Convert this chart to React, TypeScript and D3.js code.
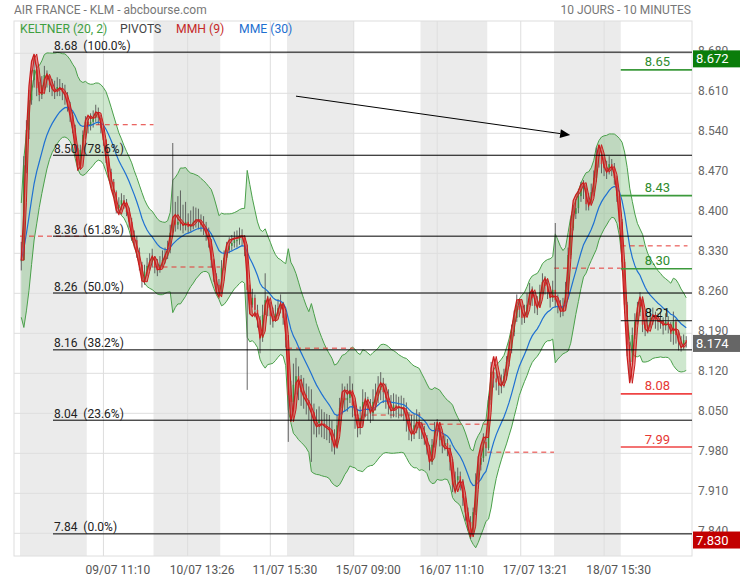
import { useMemo } from 'react';
import * as d3 from 'd3';

const size = { width: 740, height: 580 };
const PLOT = { left: 14, right: 692, top: 21, bottom: 556 };
// the bars do not fill the whole plot, the chart keeps a small gap on both sides
const BARS_SPAN = [20, 687.5];
const Y_DOMAIN = [7.8003, 8.7365];

const color = {
  grid: '#dedede',
  band: '#ebebeb',
  text: '#666',
  keltner: '#4aa04a',
  mme: '#1e70d2',
  mmh: '#c81e1e',
  up: '#3f8c3f',
  down: '#d03a3a',
  wick: '#555',
  fib: '#000',
};

const title = 'AIR FRANCE - KLM - abcbourse.com';
const subtitle = '10 JOURS - 10 MINUTES';

// the picture is 10 minute bars, read here one bar every 20 minutes
const SOURCE_MINUTES = 10;
const BAR_MINUTES = 20;
const BARS_PER_DAY = 26;

const days = ['08/07', '09/07', '10/07', '11/07', '12/07', '15/07', '16/07', '17/07', '18/07', '19/07'];

const closes = [
  // 08/07
  8.318, 8.484, 8.546, 8.598, 8.633, 8.651, 8.619, 8.607, 8.624, 8.642, 8.633, 8.624, 8.619, 8.616, 8.621, 8.619, 8.612, 8.607, 8.589, 8.572, 8.549, 8.514, 8.484, 8.511, 8.537, 8.56,
  // 09/07
  8.554, 8.56, 8.567, 8.577, 8.567, 8.549, 8.528, 8.497, 8.472, 8.455, 8.437, 8.409, 8.415, 8.423, 8.418, 8.402, 8.385, 8.362, 8.353, 8.332, 8.31, 8.287, 8.298, 8.308, 8.315, 8.322,
  // 10/07
  8.306, 8.301, 8.31, 8.318, 8.325, 8.336, 8.366, 8.388, 8.38, 8.385, 8.382, 8.378, 8.385, 8.376, 8.38, 8.385, 8.388, 8.385, 8.38, 8.375, 8.365, 8.352, 8.318, 8.29, 8.275, 8.266,
  // 11/07
  8.304, 8.322, 8.336, 8.343, 8.348, 8.353, 8.353, 8.36, 8.357, 8.336, 8.266, 8.24, 8.252, 8.231, 8.213, 8.182, 8.222, 8.248, 8.234, 8.22, 8.213, 8.224, 8.234, 8.241, 8.217, 8.178,
  // 12/07
  8.082, 8.07, 8.1, 8.115, 8.094, 8.087, 8.082, 8.073, 8.064, 8.052, 8.038, 8.033, 8.038, 8.031, 8.028, 8.026, 8.021, 8.003, 7.993, 8.029, 8.059, 8.077, 8.073, 8.077, 8.091, 8.064,
  // 15/07
  8.047, 8.029, 8.042, 8.07, 8.064, 8.056, 8.05, 8.07, 8.08, 8.091, 8.098, 8.087, 8.077, 8.066, 8.059, 8.064, 8.063, 8.059, 8.061, 8.056, 8.038, 8.024, 8.021, 8.029, 8.038, 8.024,
  // 16/07
  8.017, 8.007, 7.991, 7.965, 7.995, 8.021, 8.024, 8.003, 7.993, 7.998, 7.989, 7.965, 7.925, 7.933, 7.94, 7.93, 7.902, 7.877, 7.86, 7.842, 7.877, 7.933, 7.96, 7.972, 8.0, 7.989,
  // 17/07
  8.073, 8.122, 8.111, 8.104, 8.098, 8.103, 8.115, 8.14, 8.164, 8.192, 8.217, 8.238, 8.231, 8.217, 8.222, 8.24, 8.262, 8.252, 8.238, 8.238, 8.262, 8.28, 8.273, 8.262, 8.252, 8.266,
  // 18/07
  8.248, 8.24, 8.231, 8.238, 8.266, 8.327, 8.374, 8.399, 8.409, 8.43, 8.442, 8.444, 8.416, 8.42, 8.437, 8.462, 8.5, 8.502, 8.486, 8.479, 8.476, 8.486, 8.479, 8.462, 8.43, 8.385,
  // 19/07
  8.315, 8.24, 8.17, 8.14, 8.187, 8.21, 8.227, 8.245, 8.205, 8.199, 8.205, 8.217, 8.22, 8.213, 8.21, 8.213, 8.203, 8.21, 8.205, 8.189, 8.21, 8.187, 8.175, 8.171, 8.178, 8.174,
];

const highs = [
  8.35, 8.5, 8.563, 8.616, 8.65, 8.672, 8.66, 8.63, 8.64, 8.658, 8.65, 8.64, 8.635, 8.632, 8.638, 8.635, 8.628, 8.625, 8.612, 8.595, 8.578, 8.555, 8.52, 8.52, 8.545, 8.57,
  8.568, 8.575, 8.58, 8.59, 8.585, 8.572, 8.552, 8.53, 8.5, 8.478, 8.46, 8.44, 8.428, 8.435, 8.432, 8.425, 8.41, 8.392, 8.37, 8.36, 8.34, 8.315, 8.31, 8.322, 8.33, 8.338,
  8.325, 8.32, 8.325, 8.335, 8.34, 8.352, 8.38, 8.523, 8.42, 8.43, 8.44, 8.415, 8.42, 8.4, 8.405, 8.412, 8.41, 8.408, 8.398, 8.395, 8.385, 8.375, 8.355, 8.32, 8.295, 8.285,
  8.318, 8.335, 8.35, 8.358, 8.362, 8.368, 8.37, 8.375, 8.372, 8.362, 8.345, 8.275, 8.268, 8.258, 8.24, 8.22, 8.24, 8.295, 8.255, 8.245, 8.235, 8.24, 8.25, 8.258, 8.245, 8.225,
  8.187, 8.107, 8.137, 8.147, 8.132, 8.117, 8.112, 8.102, 8.097, 8.092, 8.067, 8.057, 8.062, 8.057, 8.052, 8.049, 8.047, 8.037, 8.022, 8.047, 8.077, 8.102, 8.097, 8.102, 8.115, 8.102,
  8.072, 8.057, 8.062, 8.092, 8.087, 8.079, 8.075, 8.092, 8.102, 8.115, 8.122, 8.112, 8.102, 8.092, 8.082, 8.085, 8.083, 8.079, 8.081, 8.077, 8.069, 8.052, 8.047, 8.049, 8.057, 8.052,
  8.035, 8.028, 8.012, 7.995, 8.005, 8.035, 8.04, 8.03, 8.01, 8.012, 8.005, 7.995, 7.97, 7.948, 7.955, 7.948, 7.935, 7.905, 7.885, 7.87, 7.885, 7.945, 7.975, 7.99, 8.015, 8.01,
  8.08, 8.14, 8.13, 8.122, 8.115, 8.118, 8.128, 8.15, 8.175, 8.205, 8.23, 8.258, 8.25, 8.238, 8.24, 8.26, 8.278, 8.272, 8.258, 8.255, 8.275, 8.295, 8.29, 8.285, 8.272, 8.282,
  8.383, 8.258, 8.248, 8.252, 8.28, 8.34, 8.39, 8.415, 8.425, 8.442, 8.455, 8.458, 8.45, 8.435, 8.452, 8.475, 8.515, 8.518, 8.508, 8.498, 8.492, 8.5, 8.495, 8.488, 8.465, 8.435,
  8.39, 8.32, 8.245, 8.175, 8.2, 8.225, 8.245, 8.262, 8.25, 8.215, 8.22, 8.232, 8.235, 8.228, 8.225, 8.228, 8.218, 8.225, 8.22, 8.21, 8.228, 8.215, 8.195, 8.185, 8.188, 8.185,
];

const lows = [
  8.3, 8.318, 8.47, 8.53, 8.59, 8.62, 8.605, 8.596, 8.6, 8.615, 8.62, 8.612, 8.605, 8.6, 8.605, 8.605, 8.598, 8.59, 8.578, 8.56, 8.54, 8.5, 8.475, 8.478, 8.505, 8.53,
  8.54, 8.545, 8.55, 8.56, 8.555, 8.54, 8.518, 8.488, 8.465, 8.445, 8.428, 8.4, 8.398, 8.405, 8.408, 8.395, 8.375, 8.352, 8.34, 8.322, 8.3, 8.27, 8.275, 8.29, 8.3, 8.305,
  8.295, 8.29, 8.296, 8.305, 8.312, 8.32, 8.33, 8.36, 8.368, 8.372, 8.37, 8.365, 8.37, 8.365, 8.368, 8.372, 8.375, 8.372, 8.368, 8.362, 8.352, 8.34, 8.305, 8.28, 8.262, 8.258,
  8.26, 8.3, 8.318, 8.33, 8.335, 8.34, 8.34, 8.345, 8.342, 8.325, 8.091, 8.225, 8.235, 8.218, 8.2, 8.155, 8.175, 8.225, 8.22, 8.205, 8.2, 8.21, 8.22, 8.225, 8.205, 8.165,
  8.0, 8.038, 8.053, 8.083, 8.073, 8.063, 8.058, 8.048, 8.038, 7.965, 8.013, 8.008, 8.013, 8.008, 8.005, 8.003, 7.998, 7.983, 7.978, 7.988, 8.018, 8.048, 8.053, 8.053, 8.068, 8.043,
  8.023, 8.008, 8.013, 8.028, 8.043, 8.038, 8.033, 8.038, 8.055, 8.068, 8.073, 8.068, 8.058, 8.048, 8.041, 8.043, 8.043, 8.041, 8.043, 8.037, 8.018, 8.003, 8.001, 8.005, 8.015, 8.005,
  8.005, 7.995, 7.978, 7.95, 7.96, 7.99, 8.01, 7.992, 7.98, 7.985, 7.975, 7.95, 7.912, 7.915, 7.925, 7.915, 7.888, 7.862, 7.845, 7.83, 7.838, 7.872, 7.928, 7.95, 7.965, 7.975,
  7.985, 8.065, 8.095, 8.09, 8.082, 8.085, 8.095, 8.108, 8.132, 8.155, 8.185, 8.21, 8.218, 8.205, 8.208, 8.225, 8.24, 8.238, 8.225, 8.222, 8.24, 8.258, 8.258, 8.25, 8.235, 8.245,
  8.235, 8.225, 8.218, 8.22, 8.23, 8.262, 8.32, 8.37, 8.39, 8.4, 8.42, 8.425, 8.405, 8.405, 8.415, 8.43, 8.455, 8.48, 8.47, 8.465, 8.46, 8.468, 8.465, 8.45, 8.42, 8.372,
  8.3, 8.225, 8.15, 8.105, 8.135, 8.18, 8.205, 8.22, 8.192, 8.185, 8.19, 8.2, 8.205, 8.198, 8.195, 8.198, 8.188, 8.195, 8.19, 8.175, 8.17, 8.172, 8.16, 8.158, 8.162, 8.165,
];

const yTicks = [7.84, 7.91, 7.98, 8.05, 8.12, 8.19, 8.26, 8.33, 8.4, 8.47, 8.54, 8.61, 8.68];
const xTickLabels = ['09/07 11:10', '10/07 13:26', '11/07 15:30', '15/07 09:00', '16/07 11:10', '17/07 13:21', '18/07 15:30'];

const keltnerParams = [20, 2];
const mmhPeriod = 9;
const mmePeriod = 30;

const fibHigh = 8.682;
const fibLow = 7.839;
const fibRatios = [1, 0.786, 0.618, 0.5, 0.382, 0.236, 0];

// pivot of each day (dashed), none could be read for 11/07
const dayPivots = [8.36, 8.555, 8.306, null, 8.164, 8.047, 8.031, 7.982, 8.304, 8.343];

// pivots of the last day
const pivotNames = ['R3', 'R2', 'R1', 'P', 'S1', 'S2'];
const pivotValues = [8.651, 8.431, 8.303, 8.212, 8.084, 7.991];

// hand drawn arrow, [bar, price]
const arrowFrom = [107, 8.605];
const arrowTo = [213.8, 8.537];

const legend = [
  { text: `KELTNER (${keltnerParams.join(', ')})`, fill: '#3f9f3f', x: 20 },
  { text: 'PIVOTS', fill: '#444', x: 120 },
  { text: `MMH (${mmhPeriod})`, fill: '#c62828', x: 176 },
  { text: `MME (${mmePeriod})`, fill: '#1e6fd0', x: 239 },
];

const FONT = "Roboto, 'Noto Sans', sans-serif";

const ema = (v: number[], n: number) => {
  const a = 2 / (n + 1);
  const out: number[] = [];
  v.forEach((x, i) => out.push(i === 0 ? x : out[i - 1] + a * (x - out[i - 1])));
  return out;
};

const wma = (v: number[], n: number) =>
  v.map((_, i) => {
    let s = 0;
    let w = 0;
    for (let k = 0; k < n && i - k >= 0; k++) {
      s += (n - k) * v[i - k];
      w += n - k;
    }
    return s / w;
  });

const hma = (v: number[], n: number) => {
  const half = wma(v, Math.max(1, Math.floor(n / 2)));
  const full = wma(v, n);
  const diff = half.map((h, i) => 2 * h - full[i]);
  return wma(diff, Math.max(1, Math.floor(Math.sqrt(n))));
};

const App = () => {
  const N = closes.length;
  const scale = SOURCE_MINUTES / BAR_MINUTES;

  const xScale = useMemo(() => d3.scaleLinear().domain([-0.5, N - 0.5]).range(BARS_SPAN), [N]);
  const yScale = useMemo(() => d3.scaleLinear().domain(Y_DOMAIN).range([PLOT.bottom, PLOT.top]), []);
  const bw = xScale(1) - xScale(0);

  const opens = closes.map((c, i) => (i === 0 ? c : closes[i - 1]));

  // indicators, periods scaled to the 20 minute bars
  const kN = Math.round(keltnerParams[0] * scale);
  const mid = ema(closes, kN);
  const tr = closes.map((_, i) =>
    i === 0
      ? highs[0] - lows[0]
      : Math.max(highs[i] - lows[i], Math.abs(highs[i] - closes[i - 1]), Math.abs(lows[i] - closes[i - 1])),
  );
  const atr = ema(tr, kN);
  const upper = mid.map((m, i) => m + keltnerParams[1] * atr[i]);
  const lower = mid.map((m, i) => m - keltnerParams[1] * atr[i]);
  const mme = ema(closes, Math.round(mmePeriod * scale));
  const mmhN = Math.round(mmhPeriod * scale);
  const mmhClose = hma(closes, mmhN);
  const mmhOpen = hma(opens, mmhN);

  const line = d3
    .line<number>()
    .x((_, i) => xScale(i))
    .y(v => yScale(v));
  const keltnerArea = d3
    .area<number>()
    .x((_, i) => xScale(i))
    .y0((_, i) => yScale(lower[i]))
    .y1(v => yScale(v));
  const ribbon = d3
    .area<number>()
    .x((_, i) => xScale(i))
    .y0((_, i) => yScale(mmhOpen[i]))
    .y1(v => yScale(v));

  const dayX0 = (d: number) => xScale(d * BARS_PER_DAY - 0.5);
  const dayX1 = (d: number) => xScale(d * BARS_PER_DAY + BARS_PER_DAY - 0.5);

  const xTicks = xTickLabels.map(label => {
    const [day, time] = label.split(' ');
    const [hh, mm] = time.split(':').map(Number);
    const minutes = (hh - 9) * 60 + mm;
    const bar = days.indexOf(day) * BARS_PER_DAY + minutes / BAR_MINUTES - 0.5;
    return { label, x: xScale(bar) };
  });

  const fibs = fibRatios.map(r => ({ r, v: fibLow + r * (fibHigh - fibLow) }));

  const tags = [
    { v: d3.max(highs) as number, fill: '#0a7d0a' },
    { v: closes[N - 1], fill: '#666' },
    { v: d3.min(lows) as number, fill: '#c20000' },
  ];

  // arrow head
  const ax0 = xScale(arrowFrom[0]);
  const ay0 = yScale(arrowFrom[1]);
  const ax1 = xScale(arrowTo[0]);
  const ay1 = yScale(arrowTo[1]);
  const ang = Math.atan2(ay1 - ay0, ax1 - ax0);
  const headL = 10;
  const headW = 4.5;
  const bx = ax1 - headL * Math.cos(ang);
  const by = ay1 - headL * Math.sin(ang);
  const head = `M${ax1},${ay1}L${bx + headW * Math.sin(ang)},${by - headW * Math.cos(ang)}L${bx - headW * Math.sin(ang)},${by + headW * Math.cos(ang)}Z`;

  const lastDay = days.length - 1;
  const pivotX0 = dayX0(lastDay);

  return (
    <div>
      <style>{'body{margin:0}'}</style>
      <svg width={size.width} height={size.height} style={{ display: 'block', fontFamily: FONT }}>
        <rect width={size.width} height={size.height} fill="#fff" />
        <defs>
          <clipPath id="plotClip">
            <rect x={PLOT.left} y={PLOT.top} width={PLOT.right - PLOT.left} height={PLOT.bottom - PLOT.top} />
          </clipPath>
        </defs>

        {/* day bands */}
        {days.map((d, i) =>
          i % 2 === 0 ? (
            <rect key={d} x={dayX0(i)} y={PLOT.top} width={dayX1(i) - dayX0(i)} height={PLOT.bottom - PLOT.top} fill={color.band} />
          ) : null,
        )}

        {/* grid */}
        {yTicks.map(t => (
          <line key={t} x1={PLOT.left} x2={PLOT.right} y1={yScale(t)} y2={yScale(t)} stroke={color.grid} />
        ))}
        {xTicks.map(t => (
          <line key={t.label} x1={t.x} x2={t.x} y1={PLOT.top} y2={PLOT.bottom} stroke={color.grid} />
        ))}
        <rect
          x={PLOT.left}
          y={PLOT.top}
          width={PLOT.right - PLOT.left}
          height={PLOT.bottom - PLOT.top}
          fill="none"
          stroke={color.grid}
        />

        <g clipPath="url(#plotClip)">
          {/* Keltner channel */}
          <path d={keltnerArea(upper) || ''} fill="rgb(60,160,60)" fillOpacity={0.25} />
          <path d={line(upper) || ''} fill="none" stroke={color.keltner} strokeWidth={1} />
          <path d={line(lower) || ''} fill="none" stroke={color.keltner} strokeWidth={1} />

          {/* daily pivots */}
          {dayPivots.map((p, d) =>
            p === null ? null : (
              <line
                key={d}
                x1={dayX0(d)}
                x2={dayX1(d)}
                y1={yScale(p)}
                y2={yScale(p)}
                stroke="#e53935"
                strokeDasharray="5,4"
              />
            ),
          )}

          {/* candles */}
          {closes.map((c, i) => {
            const o = opens[i];
            const x = xScale(i);
            const hi = Math.max(highs[i], o, c);
            const lo = Math.min(lows[i], o, c);
            const top = yScale(Math.max(o, c));
            const h = Math.max(1, Math.abs(yScale(o) - yScale(c)));
            return (
              <g key={i}>
                <line x1={x} x2={x} y1={yScale(hi)} y2={yScale(lo)} stroke={color.wick} strokeWidth={0.9} />
                <rect x={x - bw * 0.3} y={top} width={bw * 0.6} height={h} fill={c >= o ? color.up : color.down} />
              </g>
            );
          })}

          {/* MME */}
          <path d={line(mme) || ''} fill="none" stroke={color.mme} strokeWidth={1.2} />

          {/* MMH ribbon */}
          <path d={ribbon(mmhClose) || ''} fill="#e03a3a" fillOpacity={0.55} />
          <path d={line(mmhClose) || ''} fill="none" stroke={color.mmh} strokeWidth={1.3} />
          <path d={line(mmhOpen) || ''} fill="none" stroke={color.mmh} strokeWidth={1} />
        </g>

        {/* Fibonacci */}
        {fibs.map(f => (
          <g key={f.r}>
            <line x1={53} x2={PLOT.right} y1={yScale(f.v)} y2={yScale(f.v)} stroke={color.fib} strokeWidth={1} />
            <text x={54} y={yScale(f.v) - 2.5} fontSize={12} fill="#222" style={{ whiteSpace: 'pre' }}>
              {`${f.v.toFixed(2)}  (${(f.r * 100).toFixed(1)}%)`}
            </text>
          </g>
        ))}

        {/* pivots of the last day */}
        {pivotValues.map((v, i) => {
          const kind = pivotNames[i][0];
          const stroke = kind === 'R' ? '#3c9a3c' : kind === 'S' ? '#ef4444' : '#111';
          const fill = kind === 'R' ? '#2e8b2e' : kind === 'S' ? '#e53935' : '#111';
          return (
            <g key={pivotNames[i]}>
              <line x1={pivotX0} x2={PLOT.right} y1={yScale(v)} y2={yScale(v)} stroke={stroke} strokeWidth={kind === 'P' ? 1 : 1.6} />
              <text x={pivotX0 + 24} y={yScale(v) - 3.5} fontSize={13} fill={fill}>
                {v.toFixed(2)}
              </text>
            </g>
          );
        })}

        {/* arrow */}
        <line x1={ax0} y1={ay0} x2={bx} y2={by} stroke="#000" strokeWidth={1} />
        <path d={head} fill="#000" />

        {/* axes labels */}
        {yTicks.map(t => (
          <text key={t} x={698} y={yScale(t) + 2} fontSize={12} fill={color.text}>
            {t.toFixed(3)}
          </text>
        ))}
        {xTicks.map(t => (
          <text key={t.label} x={t.x + 14.5} y={574} fontSize={12} fill="#555" textAnchor="middle">
            {t.label}
          </text>
        ))}

        {/* price tags */}
        {tags.map(t => {
          const cy = yScale(t.v) + 1;
          return (
            <g key={t.fill}>
              <rect x={693} y={cy - 8.5} width={47} height={17} fill={t.fill} />
              <text x={696} y={cy + 4.5} fontSize={13} fill="#fff">
                {t.v.toFixed(3)}
              </text>
            </g>
          );
        })}

        {/* legend */}
        {legend.map(l => (
          <text key={l.text} x={l.x} y={33} fontSize={12.2} fill={l.fill}>
            {l.text}
          </text>
        ))}

        <text x={14} y={14} fontSize={12} fill="#777">
          {title}
        </text>
        <text x={691} y={14} fontSize={12} fill="#777" textAnchor="end">
          {subtitle}
        </text>
      </svg>
    </div>
  );
};

export default App;
